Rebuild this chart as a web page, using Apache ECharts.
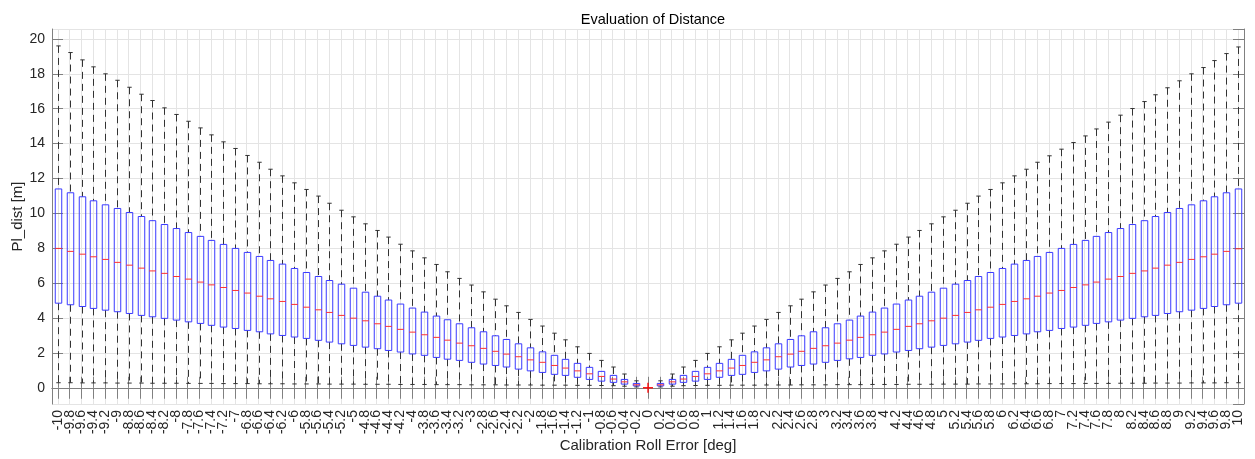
<!DOCTYPE html>
<html>
<head>
<meta charset="utf-8">
<script src="https://cdn.jsdelivr.net/npm/echarts@6/dist/echarts.min.js"></script>
<style>html,body{margin:0;padding:0;background:#fff;}#c{width:1255px;height:459px;}</style>
</head>
<body>
<div id="c"></div>
<script>
const categories = ['-10','-9.8','-9.6','-9.4','-9.2','-9','-8.8','-8.6','-8.4','-8.2','-8','-7.8','-7.6','-7.4','-7.2','-7','-6.8','-6.6','-6.4','-6.2','-6','-5.8','-5.6','-5.4','-5.2','-5','-4.8','-4.6','-4.4','-4.2','-4','-3.8','-3.6','-3.4','-3.2','-3','-2.8','-2.6','-2.4','-2.2','-2','-1.8','-1.6','-1.4','-1.2','-1','-0.8','-0.6','-0.4','-0.2','0','0.2','0.4','0.6','0.8','1','1.2','1.4','1.6','1.8','2','2.2','2.4','2.6','2.8','3','3.2','3.4','3.6','3.8','4','4.2','4.4','4.6','4.8','5','5.2','5.4','5.6','5.8','6','6.2','6.4','6.6','6.8','7','7.2','7.4','7.6','7.8','8','8.2','8.4','8.6','8.8','9','9.2','9.4','9.6','9.8','10'];

const upperWhisker = [19.6,19.22,18.8,18.4,18.0,17.63,17.23,16.83,16.47,16.05,15.67,15.28,14.9,14.5,14.1,13.72,13.32,12.93,12.53,12.15,11.75,11.37,10.99,10.58,10.18,9.8,9.4,9.02,8.64,8.23,7.85,7.45,7.07,6.65,6.27,5.89,5.5,5.08,4.7,4.32,3.92,3.54,3.13,2.75,2.35,1.97,1.57,1.19,0.79,0.4,
  0,
  0.4,0.79,1.19,1.57,1.97,2.35,2.75,3.13,3.54,3.92,4.32,4.7,5.08,5.5,5.89,6.27,6.65,7.07,7.45,7.85,8.23,8.64,9.02,9.4,9.8,10.18,10.58,10.99,11.37,11.75,12.15,12.53,12.93,13.3,13.68,14.06,14.44,14.84,15.23,15.63,16.01,16.41,16.8,17.2,17.6,18.0,18.36,18.76,19.16,19.54];

const q3 = [11.4,11.18,10.95,10.72,10.49,10.28,10.05,9.82,9.58,9.36,9.13,8.9,8.68,8.45,8.22,7.99,7.76,7.53,7.3,7.09,6.84,6.61,6.38,6.15,5.94,5.71,5.48,5.25,5.03,4.8,4.57,4.34,4.11,3.9,3.67,3.44,3.21,2.98,2.77,2.52,2.29,2.06,1.86,1.63,1.4,1.17,0.94,0.71,0.48,0.25,
  0,
  0.25,0.48,0.71,0.94,1.17,1.4,1.63,1.86,2.06,2.29,2.52,2.77,2.98,3.21,3.44,3.67,3.88,4.11,4.34,4.57,4.8,5.03,5.25,5.48,5.71,5.94,6.15,6.38,6.61,6.84,7.09,7.3,7.53,7.76,7.99,8.22,8.45,8.68,8.9,9.13,9.36,9.58,9.82,10.05,10.28,10.49,10.72,10.95,11.18,11.4];

const median = [7.99,7.82,7.66,7.51,7.36,7.19,7.03,6.86,6.7,6.56,6.38,6.23,6.06,5.9,5.75,5.58,5.43,5.25,5.1,4.95,4.78,4.62,4.47,4.32,4.15,3.99,3.84,3.67,3.52,3.35,3.19,3.04,2.89,2.73,2.56,2.41,2.26,2.09,1.93,1.78,1.6,1.46,1.28,1.13,0.97,0.8,0.65,0.5,0.34,0.17,
  0,
  0.17,0.34,0.5,0.65,0.8,0.97,1.13,1.28,1.46,1.6,1.78,1.93,2.09,2.26,2.41,2.56,2.73,2.89,3.04,3.19,3.35,3.52,3.67,3.84,3.99,4.15,4.32,4.47,4.62,4.78,4.95,5.1,5.25,5.43,5.58,5.75,5.9,6.06,6.23,6.38,6.56,6.7,6.86,7.03,7.19,7.36,7.51,7.66,7.82,7.97];

const q1 = [4.85,4.76,4.66,4.55,4.45,4.36,4.26,4.15,4.07,3.98,3.88,3.78,3.69,3.58,3.48,3.4,3.29,3.21,3.09,3.0,2.91,2.83,2.72,2.62,2.52,2.43,2.33,2.24,2.14,2.05,1.94,1.86,1.74,1.64,1.57,1.46,1.36,1.28,1.19,1.07,0.97,0.88,0.77,0.71,0.6,0.48,0.38,0.31,0.21,0.11,
  0,
  0.11,0.21,0.31,0.38,0.48,0.6,0.71,0.77,0.88,0.97,1.07,1.19,1.28,1.36,1.46,1.57,1.66,1.74,1.86,1.94,2.05,2.14,2.24,2.33,2.43,2.52,2.62,2.72,2.83,2.91,3.0,3.09,3.21,3.29,3.4,3.48,3.58,3.69,3.78,3.88,3.98,4.07,4.15,4.26,4.36,4.45,4.55,4.66,4.76,4.85];

const lowerWhisker = [0.29,0.29,0.28,0.28,0.28,0.27,0.27,0.27,0.26,0.26,0.26,0.25,0.25,0.25,0.24,0.24,0.24,0.23,0.23,0.23,0.22,0.22,0.22,0.21,0.21,0.21,0.2,0.2,0.2,0.19,0.19,0.19,0.18,0.18,0.18,0.17,0.17,0.17,0.16,0.16,0.16,0.15,0.15,0.15,0.14,0.14,0.13,0.12,0.09,0.05,
  0,
  0.05,0.09,0.12,0.13,0.14,0.14,0.15,0.15,0.15,0.16,0.16,0.16,0.17,0.17,0.17,0.18,0.18,0.18,0.19,0.19,0.19,0.2,0.2,0.2,0.21,0.21,0.21,0.22,0.22,0.22,0.23,0.23,0.23,0.24,0.24,0.24,0.25,0.25,0.25,0.26,0.26,0.26,0.27,0.27,0.27,0.28,0.28,0.28,0.29,0.29];

// outliers: [category label, value]
const outliers = [['0', 0]];

const boxData = categories.map((c, i) => [i, lowerWhisker[i], q1[i], median[i], q3[i], upperWhisker[i]]);
const outlierData = outliers.map(o => [categories.indexOf(o[0]), o[1]]);

const FONT = '"Liberation Sans", Arial, Helvetica, sans-serif';
const AXIS_COLOR = '#808080';
const TEXT_COLOR = '#262626';
const GRID_COLOR = '#e4e4e4';

const chart = echarts.init(document.getElementById('c'), null, {renderer: 'canvas'});

function renderBox(params, api) {
  const i = api.value(0);
  const lo = api.value(1), b1 = api.value(2), md = api.value(3), b3 = api.value(4), hi = api.value(5);
  if (hi === 0 && b3 === 0 && b1 === 0) return null;
  const bw = api.size([1, 0])[0];
  const boxW = bw * 0.55;
  const pHi = api.coord([i, hi]);
  const p3 = api.coord([i, b3]);
  const pM = api.coord([i, md]);
  const p1 = api.coord([i, b1]);
  const pLo = api.coord([i, lo]);
  const x = Math.round(pHi[0]) + 0.5;
  const capW = 2.2;
  const wStyle = {stroke: '#333333', lineWidth: 1, lineDash: [7, 5], fill: null};
  const cStyle = {stroke: '#333333', lineWidth: 1, fill: null};
  return {
    type: 'group',
    children: [
      {type: 'line', shape: {x1: x, y1: pHi[1], x2: x, y2: p3[1]}, style: wStyle},
      {type: 'line', shape: {x1: x, y1: p1[1], x2: x, y2: pLo[1]}, style: wStyle},
      {type: 'line', shape: {x1: x - capW, y1: pHi[1], x2: x + capW, y2: pHi[1]}, style: cStyle},
      {type: 'line', shape: {x1: x - capW, y1: pLo[1], x2: x + capW, y2: pLo[1]}, style: cStyle},
      {type: 'rect', shape: {x: x - boxW / 2, y: p3[1], width: boxW, height: p1[1] - p3[1]},
        style: {stroke: '#3a3aff', lineWidth: 1, fill: 'rgba(255,255,255,0)'}},
      {type: 'line', shape: {x1: x - boxW / 2, y1: pM[1], x2: x + boxW / 2, y2: pM[1]},
        style: {stroke: '#ff3030', lineWidth: 1}}
    ]
  };
}

function renderOutlier(params, api) {
  const p = api.coord([api.value(0), api.value(1)]);
  const s = 5;
  const st = {stroke: '#ff0000', lineWidth: 1.3};
  return {
    type: 'group',
    children: [
      {type: 'line', shape: {x1: p[0] - s, y1: p[1], x2: p[0] + s, y2: p[1]}, style: st},
      {type: 'line', shape: {x1: p[0], y1: p[1] - s, x2: p[0], y2: p[1] + s}, style: st}
    ]
  };
}

const option = {
  animation: false,
  backgroundColor: '#fff',
  title: {
    text: 'Evaluation of Distance',
    left: 648, top: 7, textAlign: 'center',
    textStyle: {fontFamily: FONT, fontSize: 14.5, fontWeight: 'normal', color: '#000'}
  },
  grid: {left: 52, right: 11, top: 29, bottom: 55},
  xAxis: [{
    type: 'category',
    data: categories,
    boundaryGap: true,
    position: 'bottom',
    name: 'Calibration Roll Error [deg]',
    nameLocation: 'middle',
    nameGap: 34,
    nameMoveOverlap: false,
    nameTextStyle: {fontFamily: FONT, fontSize: 15, color: TEXT_COLOR},
    axisLine: {show: true, lineStyle: {color: AXIS_COLOR, width: 1}},
    axisTick: {show: true, inside: true, length: 11, alignWithLabel: true, interval: 0, lineStyle: {color: AXIS_COLOR}},
    axisLabel: {interval: 0, rotate: 90, margin: 6, fontFamily: FONT, fontSize: 14, color: TEXT_COLOR},
    splitLine: {show: true, interval: 0, alignWithLabel: true, lineStyle: {color: GRID_COLOR, width: 1}}
  }, {
    type: 'category',
    data: categories,
    boundaryGap: true,
    position: 'top',
    axisLine: {show: true, lineStyle: {color: AXIS_COLOR, width: 1}},
    axisTick: {show: true, inside: true, length: 11, alignWithLabel: true, interval: 0, lineStyle: {color: AXIS_COLOR}},
    axisLabel: {show: false},
    splitLine: {show: false}
  }],
  yAxis: [{
    type: 'value',
    min: -0.93, max: 20.57,
    splitNumber: 10,
    position: 'left',
    name: 'Pl_dist [m]',
    nameLocation: 'middle',
    nameGap: 27,
    nameMoveOverlap: false,
    nameTextStyle: {fontFamily: FONT, fontSize: 15, color: TEXT_COLOR},
    axisLine: {show: true, lineStyle: {color: AXIS_COLOR, width: 1}},
    axisTick: {show: true, inside: true, length: 11, lineStyle: {color: AXIS_COLOR}},
    axisLabel: {showMinLabel: false, showMaxLabel: false, margin: 7, fontFamily: FONT, fontSize: 14, color: TEXT_COLOR},
    splitLine: {show: true, lineStyle: {color: GRID_COLOR, width: 1}}
  }, {
    type: 'value',
    min: -0.93, max: 20.57,
    splitNumber: 10,
    position: 'right',
    axisLine: {show: true, lineStyle: {color: AXIS_COLOR, width: 1}},
    axisTick: {show: true, inside: true, length: 11, lineStyle: {color: AXIS_COLOR}},
    axisLabel: {show: false},
    splitLine: {show: false}
  }],
  series: [{
    type: 'custom',
    name: 'box',
    xAxisIndex: 0, yAxisIndex: 0,
    renderItem: renderBox,
    encode: {x: 0, y: [1, 2, 3, 4, 5]},
    data: boxData,
    clip: false
  }, {
    type: 'custom',
    name: 'outliers',
    xAxisIndex: 0, yAxisIndex: 0,
    renderItem: renderOutlier,
    encode: {x: 0, y: 1},
    data: outlierData,
    clip: false
  }]
};
chart.setOption(option);
</script>
</body>
</html>
